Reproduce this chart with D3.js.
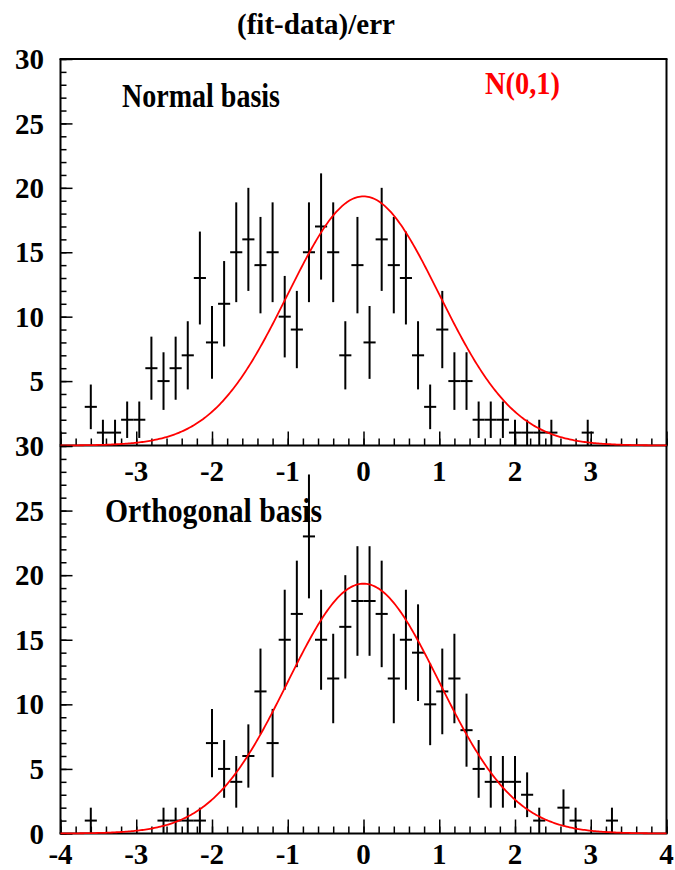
<!DOCTYPE html>
<html>
<head>
<meta charset="utf-8">
<script src="https://cdn.jsdelivr.net/npm/d3@7/dist/d3.min.js"></script>
<style>
  html, body { margin: 0; padding: 0; background: #fff; }
  svg { display: block; }
</style>
</head>
<body>
<svg id="chart" width="675" height="870"></svg>
<script>
// ---------- data ----------
const xDomain = [-4, 4];
const binWidth = 0.16;
// bin centres: -3.92 + 0.16*k, k = 0..49
const binCenters = d3.range(50).map(k => +(-3.92 + binWidth * k).toFixed(2));
const normalCounts = [0,0,3,1,1,2,2,6,5,6,7,13,8,11,15,16,14,15,10,9,15,17,15,7,14,8,16,14,13,7,3,9,5,5,2,2,2,1,1,1,1,0,0,1,0,0,0,0,0,0];
const orthoCounts  = [0,0,1,0,0,0,0,0,1,1,1,1,7,5,4,6,11,7,15,17,23,15,12,16,18,18,17,12,15,14,10,11,12,8,5,4,4,4,3,1,0,2,1,0,0,1,0,0,0,0];
const curveParams = [0, 1]; // N(mean, sigma)
const yTicksMajor = [0, 5, 10, 15, 20, 25, 30];
const xTicksMajor = [-4, -3, -2, -1, 0, 1, 2, 3, 4];
const topXLabels = ["-3", "-2", "-1", "0", "1", "2", "3"];
const botXLabels = ["-4", "-3", "-2", "-1", "0", "1", "2", "3", "4"];
const topYLabels = ["30", "25", "20", "15", "10", "5"];
const botYLabels = ["30", "25", "20", "15", "10", "5", "0"];

const FONT = "'Liberation Serif', 'Times New Roman', Times, 'DejaVu Serif', serif";

// ---------- layout ----------
const svg = d3.select("#chart");
svg.append("rect").attr("width", 675).attr("height", 870).attr("fill", "#fff");

const left = 60.5, right = 666.5;
const x = d3.scaleLinear().domain(xDomain).range([left, right]);
const panels = [
  { counts: normalCounts, y: d3.scaleLinear().domain([0, 30]).range([445.5, 59]), top: true,
    xLabels: topXLabels, yLabels: topYLabels, labelOff: 35 },
  { counts: orthoCounts, y: d3.scaleLinear().domain([0, 30]).range([833.5, 446]), top: false,
    xLabels: botXLabels, yLabels: botYLabels, labelOff: 30 }
];

panels.forEach(p => {
  const y = p.y;
  const g = svg.append("g");
  const y0 = y(0), y30 = y(30);

  // x axis ticks (pointing up)
  const minor = g.append("g").attr("transform", `translate(0,${y0})`)
    .call(d3.axisBottom(x).tickValues(d3.range(-40, 41, 2).map(v => v / 10)).tickSize(-7).tickFormat(""));
  const major = g.append("g").attr("transform", `translate(0,${y0})`)
    .call(d3.axisBottom(x).tickValues(xTicksMajor).tickSize(-14).tickFormat(""));
  // y axis ticks (pointing right)
  const yminor = g.append("g").attr("transform", `translate(${left},0)`)
    .call(d3.axisLeft(y).tickValues(d3.range(0, 31)).tickSize(-6).tickFormat(""));
  const ymajor = g.append("g").attr("transform", `translate(${left},0)`)
    .call(d3.axisLeft(y).tickValues(yTicksMajor).tickSize(-12).tickFormat(""));
  [minor, major, yminor, ymajor].forEach(a => {
    a.select(".domain").remove();
    a.selectAll("line").attr("stroke", "#000").attr("stroke-width", 1.5);
  });

  // frame
  const frame = g.append("g").attr("stroke", "#000").attr("stroke-width", 2).attr("fill", "none");
  frame.append("line").attr("x1", left).attr("x2", left).attr("y1", y30).attr("y2", y0);
  frame.append("line").attr("x1", right).attr("x2", right).attr("y1", y30).attr("y2", y0);
  frame.append("line").attr("x1", left - 1).attr("x2", right + 1).attr("y1", y0).attr("y2", y0);
  if (p.top) frame.append("line").attr("x1", left - 1).attr("x2", right + 1).attr("y1", y30).attr("y2", y30);

  // tick labels
  g.selectAll(".xl").data(p.xLabels).join("text")
    .attr("font-family", FONT).attr("font-weight", "bold")
    .attr("x", d => x(+d)).attr("y", y0 + p.labelOff)
    .attr("text-anchor", "middle").attr("font-size", 29).text(d => d);
  g.selectAll(".yl").data(p.yLabels).join("text")
    .attr("font-family", FONT).attr("font-weight", "bold")
    .attr("x", 44).attr("y", d => y(+d)).attr("dy", "0.35em")
    .attr("text-anchor", "end").attr("font-size", 29).text(d => d);

  // data points with error bars
  const pts = binCenters.map((c, i) => ({ c, v: p.counts[i] })).filter(d => d.v > 0);
  const dg = g.append("g").attr("stroke", "#000").attr("stroke-width", 2);
  dg.selectAll(".h").data(pts).join("line")
    .attr("x1", d => x(d.c - binWidth / 2)).attr("x2", d => x(d.c + binWidth / 2))
    .attr("y1", d => y(d.v)).attr("y2", d => y(d.v));
  dg.selectAll(".v").data(pts).join("line")
    .attr("x1", d => x(d.c)).attr("x2", d => x(d.c))
    .attr("y1", d => y(d.v - Math.sqrt(d.v))).attr("y2", d => y(d.v + Math.sqrt(d.v)));

  // red N(0,1) curve normalised to the histogram
  const total = d3.sum(p.counts);
  const amp = total * binWidth / Math.sqrt(2 * Math.PI) / curveParams[1];
  const xs = d3.range(0, 401).map(i => xDomain[0] + (xDomain[1] - xDomain[0]) * i / 400);
  const line = d3.line()
    .x(d => x(d))
    .y(d => y(amp * Math.exp(-0.5 * Math.pow((d - curveParams[0]) / curveParams[1], 2))));
  g.append("path").datum(xs).attr("d", line)
    .attr("fill", "none").attr("stroke", "#ff0000").attr("stroke-width", 1.8);
});

// texts
function label(tx, ty, size, len, txt, color) {
  svg.append("text").attr("x", tx).attr("y", ty)
    .attr("font-family", FONT).attr("font-weight", "bold").attr("font-size", size)
    .attr("fill", color || "#000")
    .attr("textLength", len).attr("lengthAdjust", "spacingAndGlyphs").text(txt);
}
label(237, 34, 29, 158, "(fit-data)/err");
label(122, 107, 33, 158, "Normal basis");
label(485, 94, 31, 75, "N(0,1)", "#ff0000");
label(105, 522, 33, 217, "Orthogonal basis");
</script>
</body>
</html>
